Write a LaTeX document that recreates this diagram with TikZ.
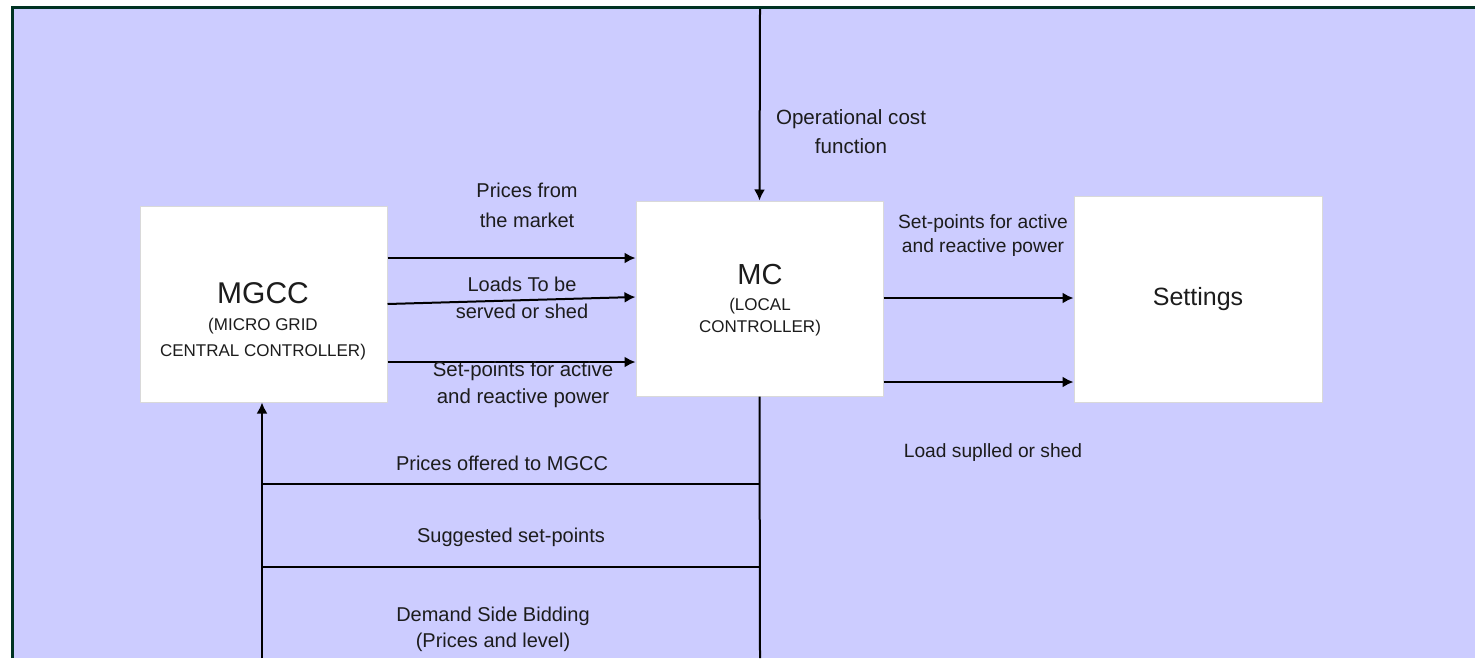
\documentclass[tikz,border=0pt]{standalone}
\usepackage{fontspec}
\setmainfont{Liberation Sans}
\usetikzlibrary{arrows.meta}
\definecolor{panel}{RGB}{204,204,255}
\definecolor{frame}{RGB}{0,51,34}
\definecolor{ink}{RGB}{28,28,28}
\begin{document}
\begin{tikzpicture}[x=0.5pt,y=-0.5pt,
  box/.style={draw=black!15, fill=white, line width=0.5pt, inner sep=0pt},
  lbl/.style={text=ink, align=center, inner sep=0pt, font=\fontsize{10}{15}\selectfont},
  wire/.style={line width=1pt, black},
  arr/.style={wire, -{Latex[length=5.5pt,width=5.5pt]}}]
% page and frame
\useasboundingbox (0,0) rectangle (1475,658);
\fill[white] (0,0) rectangle (1475,658);
\fill[panel] (11,6) rectangle (1475,658);
\draw[frame, line width=1.5pt] (12,658) -- (12,7.5) -- (1475,7.5);

% blocks
\node[box, minimum width=123.5pt, minimum height=98pt] (mgcc) at (263.5,304) {};
\node[box, minimum width=123.5pt, minimum height=97.5pt] (mc) at (759.5,298.5) {};
\node[box, minimum width=124pt, minimum height=103pt, text=ink,
      font=\fontsize{12.5}{15}\selectfont] (set) at (1198,299) {Settings};

% block titles
\node[lbl, font=\fontsize{15}{18}\selectfont] (mgcct) at (263,293) {MGCC};
\node[lbl, font=\fontsize{8.5}{13}\selectfont] (mgccs) at (263,339) {(MICRO GRID\\CENTRAL CONTROLLER)};
\node[lbl, font=\fontsize{14.5}{18}\selectfont] (mct) at (760,275) {MC};
\node[lbl, font=\fontsize{8.5}{11}\selectfont] (mcs) at (760,317) {(LOCAL\\CONTROLLER)};

% MGCC -> MC
\draw[arr] (mgcc.east |- 0,258) -- (mc.west |- 0,258);
\draw[arr] (mgcc.east |- 0,304) -- (mc.west |- 0,297);
\draw[arr] (mgcc.east |- 0,362) -- (mc.west |- 0,362);

% MC -> Settings
\draw[arr] (mc.east |- 0,298) -- (set.west |- 0,298);
\draw[arr] (mc.east |- 0,382) -- (set.west |- 0,382);

% cost function input
\coordinate (cost) at (760,9);
\draw[arr] (cost) -- (mc.north);

% bidding loop back to MGCC
\coordinate (mcout) at (760,658);
\coordinate (bidin) at (262,658);
\draw[wire] (mc.south) -- (mcout);
\draw[arr] (bidin) -- (bidin |- mgcc.south);
\coordinate (offer) at (262,484);
\coordinate (suggest) at (262,567);
\draw[wire] (offer) -- (offer -| mc.south);
\draw[wire] (suggest) -- (suggest -| mc.south);

% labels
\node[lbl, font=\fontsize{10.3}{14.5}\selectfont] (lcost) at (851,132) {Operational cost\\function};
\node[lbl] (lprice) at (527,205) {Prices from\\the market};
\node[lbl, font=\fontsize{10}{13.5}\selectfont] (lload) at (522,298) {Loads To be\\served or shed};
\node[lbl, font=\fontsize{10.2}{13.5}\selectfont] (lsp) at (523,385) {Set-points for active\\and reactive power};
\node[lbl, font=\fontsize{9.6}{12}\selectfont] (lsp2) at (983,236) {Set-points for active\\and reactive power};
\node[lbl, font=\fontsize{9.6}{12}\selectfont] (lshed) at (993,453) {Load suplled or shed};
\node[lbl] (loffer) at (502,463) {Prices offered to MGCC};
\node[lbl] (lsugg) at (511,537) {Suggested set-points};
\node[lbl, font=\fontsize{10}{13}\selectfont] (lbid) at (493,629) {Demand Side Bidding\\(Prices and level)};
\end{tikzpicture}
\end{document}
